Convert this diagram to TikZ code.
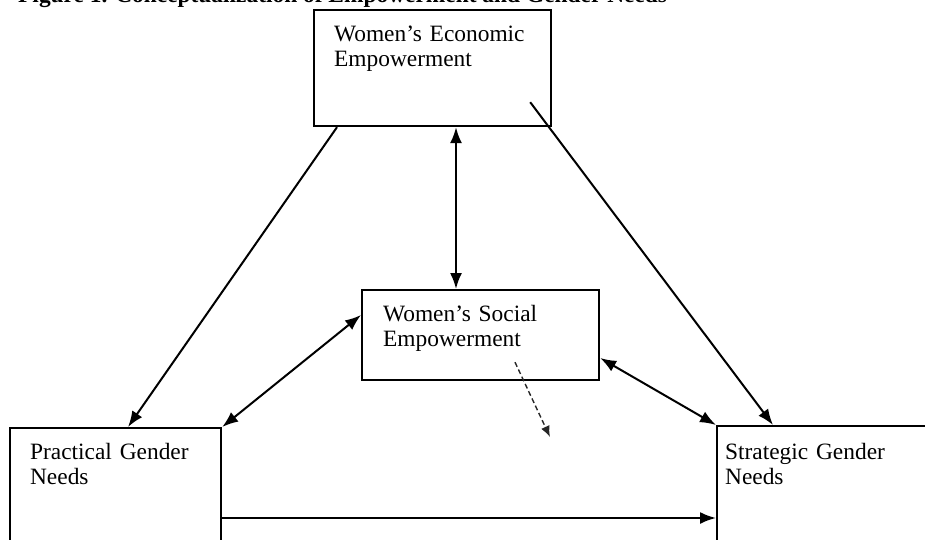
\documentclass[tikz,border=0pt]{standalone}
\usepackage{fontspec}
\setmainfont{Liberation Serif}
\usetikzlibrary{arrows.meta,calc}
\tikzset{
	box/.style={draw, rectangle, line width=2.2pt, anchor=north west, inner ysep=0pt, align=left, font=\fontsize{23.4}{25}\selectfont, text height=31pt},
	link/.style={line width=2pt, -{Latex[length=16pt,width=12pt]}},
	twoway/.style={line width=2pt, {Latex[length=16pt,width=12pt]}-{Latex[length=16pt,width=12pt]}},
}
\begin{document}
\begin{tikzpicture}[x=1pt,y=-1pt]
			\useasboundingbox (0,0) rectangle (925,540);
			\clip (0,0) rectangle (925,540);
			\node[anchor=base west, inner sep=0pt, font=\fontsize{23.4}{25}\selectfont\bfseries] (title) at (18,3) {Figure 1. Conceptualization of Empowerment and Gender Needs};
			
			\node[box, inner xsep=20pt, text width=197pt, text depth=85pt] (econ) at (313,9) {Women's Economic\\Empowerment};
			\node[box, inner xsep=21pt, text width=195pt, text depth=59pt] (social) at (361,289) {Women's Social\\Empowerment};
			\node[box, inner xsep=20pt, text width=171pt, text depth=150pt] (prac) at (9,427) {Practical Gender\\Needs};
			\node[box, inner xsep=8pt, text width=260pt, text height=33pt, text depth=150pt] (strat) at (716,425) {Strategic Gender\\Needs};
			\coordinate (scrib) at (550,437);
			
			\draw[link] ($(econ.south west)+(24,0)$) -- ($(prac.north west)+(119,0)$);
			\draw[link] ($(econ.south east)+(-22,-25)$) -- ($(strat.north west)+(57,0)$);
			\draw[twoway] ($(econ.south west)+(143,0)$) -- ($(social.north west)+(95,0)$);
			\draw[twoway] ($(social.north west)+(0,26)$) -- (prac.north east);
			\draw[twoway] ($(social.north east)+(0,69)$) -- (strat.north west);
			\draw[link] ($(prac.north east)+(0,91)$) -- ($(strat.north west)+(0,93)$);
			\draw[dash pattern=on 5pt off 3pt, line width=1.4pt, draw=black!85, -{Latex[length=11pt,width=9pt]}] ($(social.south west)+(154,-19)$) -- (scrib);
			
		\end{tikzpicture}
\end{document}
